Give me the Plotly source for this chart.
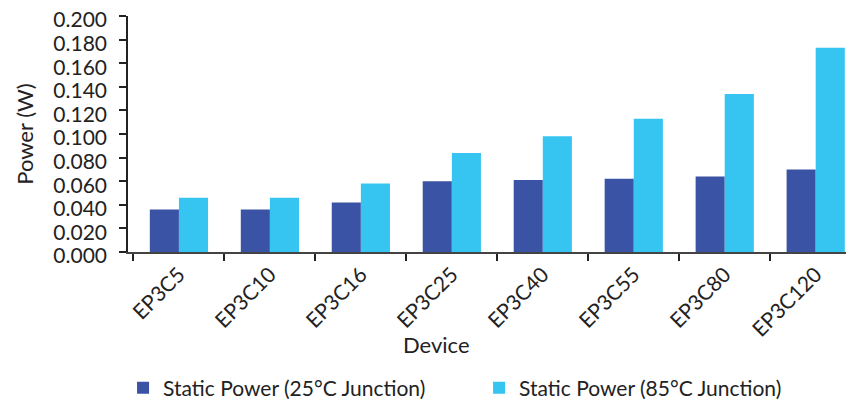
import plotly.graph_objects as go

devices = ["EP3C5", "EP3C10", "EP3C16", "EP3C25", "EP3C40", "EP3C55", "EP3C80", "EP3C120"]
power_25c = [0.036, 0.036, 0.042, 0.060, 0.061, 0.062, 0.064, 0.070]
power_85c = [0.046, 0.046, 0.058, 0.084, 0.098, 0.113, 0.134, 0.173]
series_names = ["Static Power (25°C Junction)", "Static Power (85°C Junction)"]
y_ticks = [0.0, 0.02, 0.04, 0.06, 0.08, 0.10, 0.12, 0.14, 0.16, 0.18, 0.20]

FONT = "Lato"

fig = go.Figure()
fig.add_trace(go.Bar(x=devices, y=power_25c, name=series_names[0],
                     marker=dict(color="#3A53A4", line=dict(width=0))))
fig.add_trace(go.Bar(x=devices, y=power_85c, name=series_names[1],
                     marker=dict(color="#36C5F0", line=dict(width=0))))

fig.add_annotation(text="Device", xref="paper", yref="paper",
                   x=0.426, y=-0.394, xanchor="center", yanchor="middle",
                   showarrow=False, font=dict(size=22, family=FONT, color="#222222"))

fig.update_layout(
    width=846, height=394,
    margin=dict(l=120, r=1, t=8, b=150, autoexpand=False),
    paper_bgcolor="white", plot_bgcolor="white",
    barmode="group", bargap=0.36, bargroupgap=0,
    font=dict(family=FONT, size=21, color="#222222"),
    showlegend=True,
    legend=dict(orientation="h", xref="container", x=0.136, xanchor="left",
                yref="container", y=0.0355, yanchor="middle",
                font=dict(size=21), entrywidth=311, itemsizing="constant",
                traceorder="normal"),
    xaxis=dict(
        range=[-0.56, 7.41], tickangle=-45, automargin=False,
        showline=True, linecolor="#444444", linewidth=2,
        ticks="outside", tickson="boundaries", ticklen=7, tickcolor="#222222", tickwidth=2,
        showgrid=False, tickfont=dict(size=21),
    ),
    yaxis=dict(
        range=[0, 0.2], tickvals=y_ticks, tickformat=".3f", automargin=False,
        showline=True, linecolor="#222222", linewidth=1.5,
        ticks="outside", ticklen=7, tickcolor="#222222", tickwidth=1.5,
        ticklabelstandoff=8, ticklabeloverflow="allow", ticklabelshift=4,
        showgrid=False, zeroline=False, tickfont=dict(size=21),
        title=dict(text="Power (W)", font=dict(size=22), standoff=14),
    ),
)

fig.write_html("out.html")
